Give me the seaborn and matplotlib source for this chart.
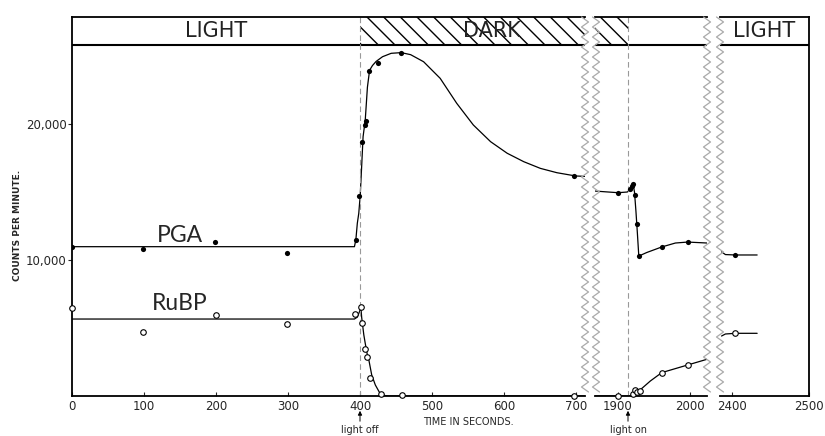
import numpy as np
import matplotlib
matplotlib.use("Agg")
import matplotlib.pyplot as plt
from matplotlib.lines import Line2D
import seaborn as sns

# ---- data ----
# PGA (filled dots), first light/dark period
pga_t1 = [0, 99, 199, 299, 394, 399, 403, 406, 408, 412, 425, 457, 697]
pga_v1 = [10960, 10800, 11330, 10500, 11470, 14700, 18680, 19930, 20220, 23900, 24480, 25220, 16180]
# traced curve through the PGA points
pga_line_t1 = [0, 392, 394, 396, 398, 400, 402, 404, 407, 410, 413, 417, 422, 431, 443, 457,
               470, 488, 511, 534, 557, 581, 604, 627, 650, 673, 699, 712]
pga_line_v1 = [10980, 10980, 11500, 12700, 13430, 14730, 16860, 19070, 20290, 22700, 23950, 24300,
               24600, 24950, 25200, 25250, 25100, 24580, 23360, 21520, 19930, 18700, 17850,
               17230, 16740, 16420, 16180, 16150]

# RuBP (open circles), first light/dark period
rubp_t1 = [0, 99, 200, 299, 393, 401, 403, 407, 410, 414, 429, 458, 697]
rubp_v1 = [6450, 4700, 5950, 5290, 6030, 6520, 5390, 3450, 2890, 1350, 120, 50, 0]
rubp_line_t1 = [0, 392, 396, 399, 401, 402, 405, 407, 410, 412, 416, 421, 427, 432, 440, 712]
rubp_line_v1 = [5660, 5660, 5800, 6200, 6500, 5800, 4500, 3870, 3000, 2650, 1540, 810, 240, 50, 0, 0]

# second dark -> light transition
pga_t2 = [1900, 1917, 1919, 1921, 1924, 1927, 1929, 1961, 1997]
pga_v2 = [14930, 15200, 15440, 15560, 14780, 12650, 10290, 10960, 11320]
pga_line_t2 = [1868, 1900, 1913, 1917, 1919, 1921, 1923, 1925, 1927, 1929, 1940, 1961, 1980, 1997, 2024]
pga_line_v2 = [15070, 14950, 15000, 15200, 15440, 15580, 15000, 13600, 12000, 10290, 10550,
               10960, 11250, 11320, 11250]

rubp_t2 = [1900, 1921, 1924, 1927, 1931, 1961, 1997]
rubp_v2 = [0, 150, 420, 320, 390, 1720, 2280]
rubp_line_t2 = [1868, 1916, 1920, 1925, 1932, 1945, 1961, 1997, 2024]
rubp_line_v2 = [0, 0, 100, 350, 500, 1100, 1720, 2280, 2700]

# final light period
pga_t3 = [2405]
pga_v3 = [10370]
pga_line_t3 = [2387, 2392, 2405, 2433]
pga_line_v3 = [10600, 10400, 10370, 10370]
rubp_t3 = [2405]
rubp_v3 = [4610]
rubp_line_t3 = [2387, 2392, 2405, 2433]
rubp_line_v3 = [4410, 4560, 4610, 4610]

light_off = 400
light_on = 1914
YTOP = 27870
HEADER = 25810

# ---- figure ----
sns.set_style("ticks")
plt.rcParams['font.family'] = ['DejaVu Sans']

W, H = 825, 436
fig = plt.figure(figsize=(W / 100, H / 100), dpi=100)


def add_panel(left, right, top=17, bottom=396):
    return fig.add_axes([left / W, 1 - bottom / H, (right - left) / W, (bottom - top) / H])


ax1 = add_panel(72, 585)
ax2 = add_panel(595, 707)
ax3 = add_panel(720, 809)

panels = [
    (ax1, (0, 712), [0, 100, 200, 300, 400, 500, 600, 700],
     pga_line_t1, pga_line_v1, pga_t1, pga_v1, rubp_line_t1, rubp_line_v1, rubp_t1, rubp_v1),
    (ax2, (1868, 2024), [1900, 2000],
     pga_line_t2, pga_line_v2, pga_t2, pga_v2, rubp_line_t2, rubp_line_v2, rubp_t2, rubp_v2),
    (ax3, (2385, 2500), [2400, 2500],
     pga_line_t3, pga_line_v3, pga_t3, pga_v3, rubp_line_t3, rubp_line_v3, rubp_t3, rubp_v3),
]

for ax, xlim, xt, plt_, plv, pt, pv, rlt, rlv, rt, rv in panels:
    sns.lineplot(x=plt_, y=plv, ax=ax, color='black', lw=0.9, estimator=None, sort=False)
    sns.lineplot(x=rlt, y=rlv, ax=ax, color='black', lw=0.9, estimator=None, sort=False)
    sns.scatterplot(x=pt, y=pv, ax=ax, color='black', s=14, marker='o', linewidth=0, zorder=3)
    sns.scatterplot(x=rt, y=rv, ax=ax, facecolor='white', edgecolor='black', s=16,
                    marker='o', linewidth=0.8, zorder=3, clip_on=False)
    ax.set_xlim(*xlim)
    ax.set_ylim(0, YTOP)
    ax.set_xticks(xt)
    ax.set_xticklabels([str(v) for v in xt], fontsize=8.5)
    ax.tick_params(axis='x', direction='in', length=3, width=0.8, pad=3)
    ax.axhline(HEADER, color='black', lw=1.5)
    for s in ax.spines.values():
        s.set_linewidth(1.3)
        s.set_color('black')
    ax.set_xlabel('')
    ax.set_ylabel('')

ax1.set_yticks([10000, 20000])
ax1.set_yticklabels(['10,000', '20,000'], fontsize=8.5)
ax1.tick_params(axis='y', direction='out', length=3, width=0.8, pad=1)
ax1.spines['right'].set_visible(False)
for ax in (ax2, ax3):
    ax.set_yticks([])
    ax.spines['left'].set_visible(False)
ax2.spines['right'].set_visible(False)

# light/dark header bands
ax1.axvspan(light_off, 712, ymin=HEADER / YTOP, ymax=1, fill=False, hatch='\\\\',
            edgecolor='black', linewidth=0)
ax2.axvspan(1868, light_on, ymin=HEADER / YTOP, ymax=1, fill=False, hatch='\\\\',
            edgecolor='black', linewidth=0)
hy = (HEADER + YTOP) / 2
ax1.text(200, hy, 'LIGHT', ha='center', va='center', fontsize=15, color='#222222')
ax1.text(583, hy, 'DARK', ha='center', va='center', fontsize=15, color='#222222')
ax3.text(2442, hy, 'LIGHT', ha='center', va='center', fontsize=15, color='#222222')

ax1.axvline(light_off, color='#999999', ls=(0, (5, 3)), lw=0.8)
ax2.axvline(light_on, color='#999999', ls=(0, (5, 3)), lw=0.8)

# series labels
ax1.text(118, 11320, 'PGA', fontsize=16.5, family=['Lato', 'DejaVu Sans'], va='baseline')
ax1.text(111, 6320, 'RuBP', fontsize=16.5, family=['Lato', 'DejaVu Sans'], va='baseline')


# axis break zig-zags
def zigzag(x0):
    ys = np.arange(17, 397, 5.0)
    xs = x0 + np.where(np.arange(len(ys)) % 2 == 0, -3.5, 3.5)
    fig.add_artist(Line2D(xs / W, 1 - ys / H, color='#aaaaaa', lw=0.9,
                          transform=fig.transFigure))


for x0 in (585, 596, 707, 720):
    zigzag(x0)

# axis titles and annotations
fig.text(18 / W, 1 - 225 / H, 'COUNTS PER MINUTE.', rotation=90, ha='center', va='center',
         fontsize=6.5, fontweight='bold')
fig.text(423 / W, 1 - 422 / H, 'TIME IN SECONDS.', ha='left', va='center', fontsize=7)
for xp, lab in ((360, 'light off'), (628, 'light on')):
    fig.text(xp / W, 1 - 430 / H, lab, ha='center', va='center', fontsize=7)
    fig.add_artist(matplotlib.patches.FancyArrowPatch(
        (xp / W, 1 - 424 / H), (xp / W, 1 - 408 / H), transform=fig.transFigure,
        arrowstyle='-|>', mutation_scale=6, lw=0.7, color='black'))

fig.savefig('out.png', dpi=100)
